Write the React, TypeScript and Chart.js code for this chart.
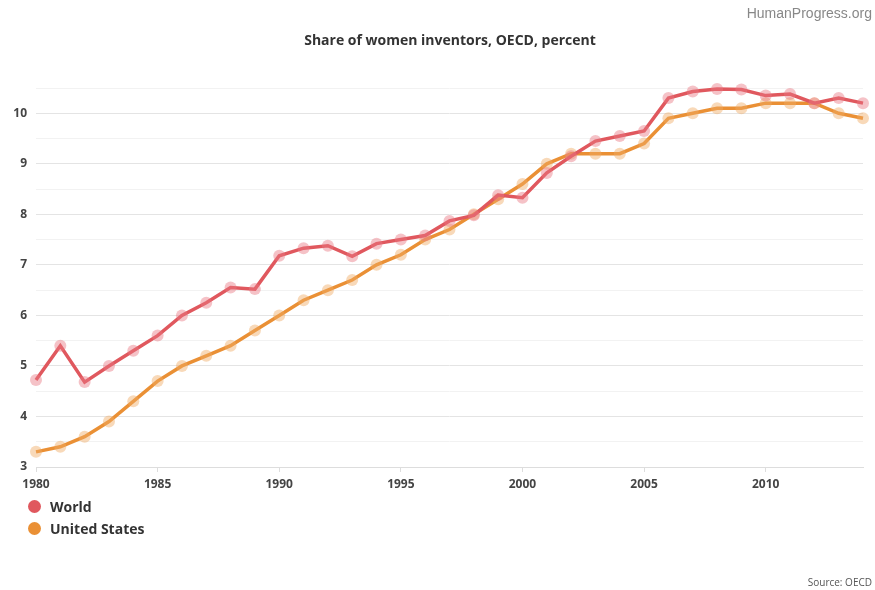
import React, { useEffect, useRef } from "react";
import { Chart, registerables } from "chart.js";

Chart.register(...registerables);

const years = [
  1980, 1981, 1982, 1983, 1984, 1985, 1986, 1987, 1988, 1989,
  1990, 1991, 1992, 1993, 1994, 1995, 1996, 1997, 1998, 1999,
  2000, 2001, 2002, 2003, 2004, 2005, 2006, 2007, 2008, 2009,
  2010, 2011, 2012, 2013, 2014,
];

const world = [
  4.72, 5.4, 4.68, 5.0, 5.3, 5.6, 6.0, 6.25, 6.55, 6.52,
  7.18, 7.33, 7.38, 7.17, 7.42, 7.5, 7.58, 7.87, 7.98, 8.38,
  8.33, 8.82, 9.15, 9.45, 9.55, 9.65, 10.3, 10.43, 10.48, 10.47,
  10.35, 10.38, 10.2, 10.3, 10.2,
];

const unitedStates = [
  3.3, 3.4, 3.6, 3.9, 4.3, 4.7, 5.0, 5.2, 5.4, 5.7,
  6.0, 6.3, 6.5, 6.7, 7.0, 7.2, 7.5, 7.7, 8.0, 8.3,
  8.6, 9.0, 9.2, 9.2, 9.2, 9.4, 9.9, 10.0, 10.1, 10.1,
  10.2, 10.2, 10.2, 10.0, 9.9,
];

const xTickYears = [1980, 1985, 1990, 1995, 2000, 2005, 2010];

const title = "Share of women inventors, OECD, percent";
const seriesNames = ["World", "United States"];
const seriesColors = ["#e0585e", "#ea9035"];
const pointColors = ["rgba(232,120,130,0.45)", "rgba(240,170,100,0.45)"];

export default function App() {
  const ref = useRef<HTMLCanvasElement | null>(null);

  useEffect(() => {
    if (!ref.current) return;
    const font = "'Open Sans', sans-serif";
    const chart = new Chart(ref.current, {
      type: "line",
      data: {
        datasets: [world, unitedStates].map((vals, i) => ({
          label: seriesNames[i],
          data: vals.map((v, j) => ({ x: years[j], y: v })),
          borderColor: seriesColors[i],
          borderWidth: 3.5,
          pointRadius: 6,
          pointBackgroundColor: pointColors[i],
          pointBorderWidth: 0,
          pointHoverRadius: 6,
          tension: 0,
          clip: false,
        })),
      },
      options: {
        animation: false,
        responsive: false,
        maintainAspectRatio: false,
        layout: { padding: { top: 88, right: 12, left: 0, bottom: 0 } },
        plugins: {
          legend: { display: false },
          title: { display: false },
          tooltip: { enabled: false },
        },
        scales: {
          x: {
            type: "linear",
            min: 1980,
            max: 2014,
            afterBuildTicks: (s: any) => {
              s.ticks = xTickYears.map((v) => ({ value: v }));
            },
            afterFit: (s: any) => {
              s.height = 123;
            },
            grid: {
              drawOnChartArea: false,
              drawTicks: true,
              tickLength: 5,
              color: "#dddddd",
            },
            border: { display: true, color: "#dddddd", width: 1 },
            ticks: {
              padding: 5,
              maxRotation: 0,
              color: "#444444",
              font: { family: font, size: 12, weight: "bold" },
              callback: (v: any) => String(v),
            },
          },
          y: {
            min: 3,
            max: 10.5,
            afterFit: (s: any) => {
              s.width = 36;
            },
            grid: {
              drawTicks: false,
              color: (ctx: any) =>
                ctx.tick && Number.isInteger(ctx.tick.value) ? "#e4e4e4" : "#f2f2f2",
              lineWidth: 1,
            },
            border: { display: false },
            ticks: {
              stepSize: 0.5,
              padding: 9,
              color: "#444444",
              font: { family: font, size: 12, weight: "bold" },
              callback: (v: any) => (Number.isInteger(v) ? String(v) : ""),
            },
          },
        },
      },
    });
    return () => chart.destroy();
  }, []);

  const font = "'Open Sans', sans-serif";

  return (
    <div
      style={{
        position: "fixed",
        left: 0,
        top: 0,
        width: 875,
        height: 590,
        background: "#ffffff",
        fontFamily: font,
      }}
    >
      <canvas ref={ref} width={875} height={590} style={{ position: "absolute", left: 0, top: 0 }} />
      <div
        style={{
          position: "absolute",
          right: 3,
          top: 5,
          fontFamily: "'Liberation Sans', Arial, sans-serif",
          fontSize: 14,
          color: "#888888",
        }}
      >
        HumanProgress.org
      </div>
      <div
        style={{
          position: "absolute",
          left: 0,
          width: 900,
          top: 30,
          textAlign: "center",
          fontSize: 14,
          fontWeight: "bold",
          color: "#333333",
        }}
      >
        {title}
      </div>
      {seriesNames.map((name, i) => (
        <div
          key={name}
          style={{
            position: "absolute",
            left: 28,
            top: 497 + i * 22,
            display: "flex",
            alignItems: "center",
            fontSize: 14,
            fontWeight: "bold",
            color: "#333333",
          }}
        >
          <span
            style={{
              display: "inline-block",
              width: 13,
              height: 13,
              borderRadius: 7,
              background: seriesColors[i],
              marginRight: 9,
            }}
          />
          {name}
        </div>
      ))}
      <div
        style={{
          position: "absolute",
          right: 3,
          top: 575,
          fontSize: 10,
          color: "#555555",
        }}
      >
        Source: OECD
      </div>
    </div>
  );
}
